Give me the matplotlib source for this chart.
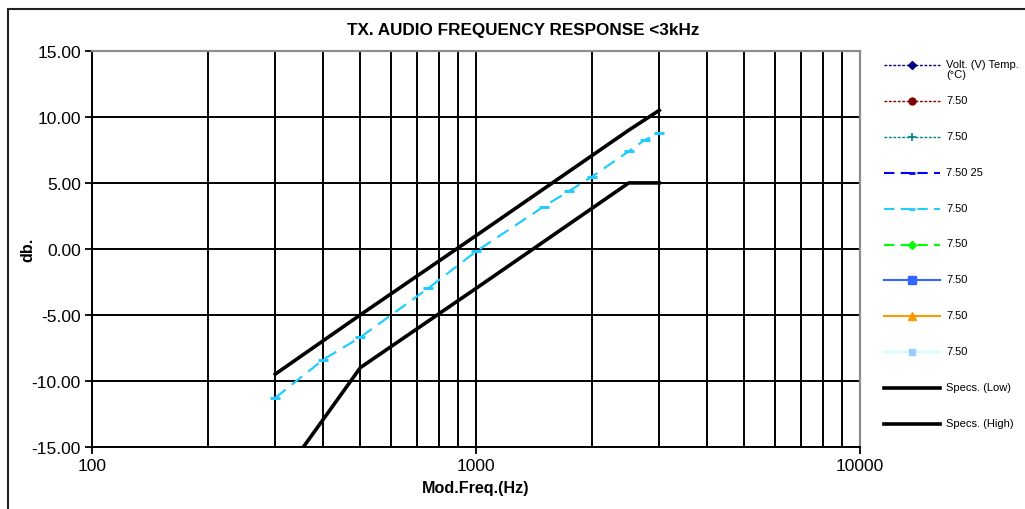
import matplotlib.pyplot as plt
import numpy as np
from matplotlib.lines import Line2D
from matplotlib.patches import Rectangle
from matplotlib.ticker import FixedLocator, NullFormatter

plt.rcParams['font.family'] = ['Liberation Sans', 'DejaVu Sans']

# measured response (cyan series)
freq = [300, 400, 500, 750, 1000, 1500, 1750, 2000, 2500, 2750, 3000]
resp_db = [-11.3, -8.4, -6.7, -3.0, -0.2, 3.2, 4.4, 5.45, 7.4, 8.25, 8.8]

# spec limits
spec_freq = [300, 500, 1000, 2500, 3000]
spec_high = [-9.5, -5.0, 1.0, 9.0, 10.5]
spec_low = [-18.0, -9.0, -3.0, 5.0, 5.0]

legend_labels = ['Volt. (V) Temp.\n(°C)', '7.50', '7.50', '7.50 25', '7.50',
                 '7.50', '7.50', '7.50', '7.50', 'Specs. (Low)', 'Specs. (High)']

fig = plt.figure(figsize=(10.25, 5.1), dpi=100)
ax = fig.add_axes([92/1025, 1-447.7/510, (860-92)/1025, (447.7-52)/510])

ax.set_xscale('log')
ax.set_xlim(100, 10000)
ax.set_ylim(-15, 15)

minors = [m * d for d in (100, 1000) for m in range(2, 10)]
ax.xaxis.set_major_locator(FixedLocator([100, 1000, 10000]))
ax.xaxis.set_minor_locator(FixedLocator(minors))
ax.xaxis.set_minor_formatter(NullFormatter())
ax.set_xticklabels(['100', '1000', '10000'])
ax.set_yticks(np.arange(-15, 16, 5))
ax.set_yticklabels(['%.2f' % v for v in np.arange(-15, 16, 5)])
ax.tick_params(axis='both', which='major', direction='out', length=5, width=1.3,
               labelsize=12.5, pad=3)
ax.tick_params(axis='x', which='minor', length=0)

ax.grid(True, which='both', axis='x', color='black', lw=1.4)
ax.grid(True, which='major', axis='y', color='black', lw=1.4)
ax.set_axisbelow(True)

for s in ['top', 'right']:
    ax.spines[s].set_color('#8c8c8c')
    ax.spines[s].set_linewidth(1.6)
for s in ['left', 'bottom']:
    ax.spines[s].set_color('black')
    ax.spines[s].set_linewidth(1.4)

ax.plot(spec_freq, spec_low, color='black', lw=2.6, zorder=3)
ax.plot(spec_freq, spec_high, color='black', lw=2.6, zorder=3)
ax.plot(freq, resp_db, color='#22ccff', lw=1.6, dashes=(6, 3.5),
        marker='_', ms=7, mew=2.2, zorder=4)

fig.text(523/1025, 1 - 30/510, 'TX. AUDIO FREQUENCY RESPONSE <3kHz', fontsize=12.3,
         fontweight='bold', ha='center', va='center')
ax.set_xlabel('Mod.Freq.(Hz)', fontsize=11.6, fontweight='bold', labelpad=5)
ax.set_ylabel('db.', fontsize=11.6, fontweight='bold', labelpad=-3)

# legend drawn in pixel space on the right
lg = fig.add_axes([0, 0, 1, 1])
lg.set_xlim(0, 1025)
lg.set_ylim(510, 0)
lg.axis('off')
styles = [
    dict(color='#000080', dashes=(2, 1.2), lw=1.0, marker='D', ms=4, mfc='#000080'),
    dict(color='#800000', dashes=(2, 1.2), lw=1.0, marker='o', ms=5, mfc='#800000'),
    dict(color='#008080', dashes=(2, 1.2), lw=1.0, marker='+', ms=6, mew=1.2),
    dict(color='#0000ff', dashes=(5, 3), lw=1.5, marker='_', ms=5, mew=2),
    dict(color='#22ccff', dashes=(5, 3), lw=1.5, marker='_', ms=5, mew=2),
    dict(color='#00ff00', dashes=(5, 3), lw=1.5, marker='D', ms=4, mfc='#00ff00'),
    dict(color='#3366ff', ls='-', lw=1.5, marker='s', ms=6, mfc='#3366ff'),
    dict(color='#ff9900', ls='-', lw=1.5, marker='^', ms=6, mfc='#ff9900'),
    dict(color='#ccffff', ls='-', lw=1.5, marker='s', ms=4, mfc='#99ccff', mec='#99ccff'),
    dict(color='black', ls='-', lw=2.6),
    dict(color='black', ls='-', lw=2.6),
]
for i, (lab, st) in enumerate(zip(legend_labels, styles)):
    y = 66 + 35.9 * i
    mk = st.pop('marker', None)
    ms = st.pop('ms', None)
    mew = st.pop('mew', 1)
    mfc = st.pop('mfc', st['color'])
    mec = st.pop('mec', st['color'])
    lg.add_line(Line2D([884, 940], [y, y], **st))
    if mk:
        lg.plot([912], [y], marker=mk, ms=ms, mew=mew, mfc=mfc, mec=mec, ls='none')
    lg.text(946, y - 6, lab, fontsize=8, va='top', ha='left', linespacing=1.0)

fig.add_artist(Rectangle((8/1025, -0.1), 1.2, 0.1 + 1 - 10/510, transform=fig.transFigure,
                         fill=False, ec='#222222', lw=1.5))

fig.savefig('out.png', dpi=100)
